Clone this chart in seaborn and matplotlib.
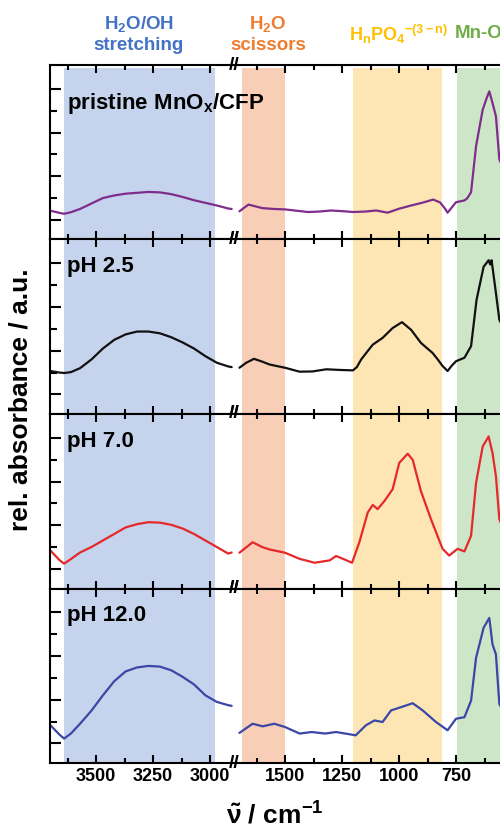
import numpy as np
import pandas as pd
import matplotlib
matplotlib.use("Agg")
import matplotlib.pyplot as plt
import seaborn as sns

sns.set_style("ticks")
plt.rcParams['font.family'] = ['Liberation Sans', 'DejaVu Sans']
plt.rcParams['font.weight'] = 'bold'
plt.rcParams['text.color'] = 'black'
plt.rcParams['axes.edgecolor'] = 'black'
plt.rcParams['xtick.color'] = 'black'
plt.rcParams['ytick.color'] = 'black'
plt.rcParams['mathtext.fontset'] = 'custom'
plt.rcParams['mathtext.rm'] = 'Liberation Sans:bold'
plt.rcParams['mathtext.it'] = 'Liberation Sans:italic:bold'
plt.rcParams['mathtext.bf'] = 'Liberation Sans:bold'
plt.rcParams['mathtext.default'] = 'rm'

# ---- data ----
samples = ["pristine MnO$_x$/CFP", "pH 2.5", "pH 7.0", "pH 12.0"]
colors = ["#7E2D8C", "#111111", "#E5292B", "#3A47A6"]

# high wavenumber part (left of the break)
wn_left = [3700, 3660, 3640, 3610, 3570, 3520, 3470, 3420, 3370, 3320, 3270,
           3220, 3170, 3120, 3070, 3020, 2970, 2920, 2905]
pristine_left = [0.42, 0.32, 0.28, 0.35, 0.5, 0.75, 1.0, 1.12, 1.2, 1.24, 1.28,
                 1.26, 1.18, 1.05, 0.9, 0.78, 0.66, 0.52, 0.5]
ph25_left = [1.07, 1.0, 0.98, 1.02, 1.2, 1.6, 2.1, 2.5, 2.75, 2.88, 2.88,
             2.8, 2.62, 2.38, 2.1, 1.75, 1.45, 1.28, 1.25]
ph70_left = [0.84, 0.4, 0.24, 0.45, 0.75, 1.0, 1.3, 1.6, 1.9, 2.05, 2.14,
             2.12, 2.02, 1.85, 1.6, 1.3, 1.0, 0.7, 0.75]
ph120_left = [0.83, 0.4, 0.22, 0.45, 0.9, 1.5, 2.2, 2.85, 3.3, 3.48, 3.55,
              3.52, 3.35, 3.05, 2.7, 2.2, 1.9, 1.75, 1.72]

# low wavenumber part (right of the break)
wn_pristine = [1700, 1680, 1660, 1630, 1600, 1550, 1500, 1450, 1400, 1350, 1300,
               1250, 1200, 1150, 1100, 1050, 1000, 950, 900, 850, 820, 800, 787,
               770, 750, 713, 700, 684, 662, 633, 615, 604, 590, 575, 560, 545]
pristine_right = [0.39, 0.55, 0.70, 0.62, 0.54, 0.5, 0.48, 0.42, 0.36, 0.38, 0.43,
                  0.4, 0.36, 0.38, 0.43, 0.33, 0.51, 0.65, 0.78, 0.93, 0.8, 0.54, 0.33,
                  0.55, 0.81, 0.89, 1.0, 1.27, 3.39, 5.05, 5.6, 5.89, 5.36, 4.75, 2.78, 2.4]

wn_ph25 = [1700, 1670, 1636, 1600, 1568, 1500, 1436, 1380, 1319, 1260, 1202, 1185,
           1166, 1140, 1115, 1072, 1028, 987, 947, 904, 853, 830, 809, 787, 770,
           750, 713, 684, 660, 629, 607, 600, 594, 575, 560, 545]
ph25_right = [1.22, 1.45, 1.63, 1.5, 1.37, 1.22, 1.04, 1.05, 1.15, 1.12, 1.1, 1.25,
              1.6, 1.95, 2.28, 2.59, 3.04, 3.31, 2.96, 2.36, 1.9, 1.6, 1.3, 1.07, 1.3,
              1.52, 1.68, 2.21, 4.33, 5.85, 6.15, 5.95, 6.15, 4.65, 3.42, 3.1]

wn_ph70 = [1700, 1642, 1600, 1568, 1500, 1436, 1370, 1304, 1276, 1239, 1206, 1174,
           1137, 1115, 1094, 1064, 1028, 999, 962, 940, 904, 860, 809, 780, 743,
           713, 684, 662, 633, 607, 590, 575, 560, 545]
ph70_right = [0.74, 1.22, 1.0, 0.89, 0.74, 0.46, 0.28, 0.39, 0.59, 0.43, 0.28, 1.22,
              2.59, 2.93, 2.74, 3.11, 3.65, 4.86, 5.28, 5.0, 3.57, 2.28, 0.92, 0.61, 0.92,
              0.8, 1.52, 3.95, 5.61, 6.07, 5.31, 4.25, 2.28, 1.9]

wn_ph120 = [1700, 1642, 1598, 1547, 1500, 1436, 1383, 1324, 1276, 1190, 1145, 1108,
            1072, 1035, 991, 940, 896, 838, 787, 750, 713, 684, 662, 629, 604, 590,
            575, 560, 545]
ph120_right = [0.48, 0.9, 0.78, 0.9, 0.75, 0.45, 0.52, 0.45, 0.52, 0.37, 0.83, 1.05,
               0.98, 1.51, 1.66, 1.84, 1.51, 0.98, 0.6, 1.13, 1.2, 1.96, 3.93, 5.3, 5.75,
               4.54, 4.08, 1.81, 1.5]

lefts = [pristine_left, ph25_left, ph70_left, ph120_left]
rights = [(wn_pristine, pristine_right), (wn_ph25, ph25_right),
          (wn_ph70, ph70_right), (wn_ph120, ph120_right)]

# shaded regions
bands = [(3640, 2980, "#C5D3EC"), (1690, 1500, "#F8CEB6"),
         (1200, 810, "#FEE6B4"), (745, 500, "#CDE6C8")]

# ---- broken x axis as a piecewise scale ----
LO, HI, SHIFT, GAP = 1720, 2900, 1171, 9


def fwd(x):
    x = np.asarray(x, dtype=float)
    return np.where(x >= HI, x - SHIFT,
                    np.where(x > LO, LO + (x - LO) * GAP / (HI - LO), x))


def inv(t):
    t = np.asarray(t, dtype=float)
    return np.where(t >= LO + GAP, t + SHIFT,
                    np.where(t > LO, LO + (t - LO) * (HI - LO) / GAP, t))


fig = plt.figure(figsize=(5, 8.3), dpi=100)
h = 174.5 / 830
top = 1 - 65 / 830
axes = []
for i in range(4):
    ax = fig.add_axes([50.4 / 500, top - (i + 1) * h, 453.5 / 500, h])
    axes.append(ax)

for i, ax in enumerate(axes):
    ax.set_xscale('function', functions=(fwd, inv))
    for a, b, c in bands:
        ax.axvspan(a, b, ymin=0, ymax=0.98 if i == 0 else 1, color=c, lw=0, zorder=0)
    sns.lineplot(x=wn_left, y=lefts[i], ax=ax, color=colors[i], lw=1.6)
    sns.lineplot(x=rights[i][0], y=rights[i][1], ax=ax, color=colors[i], lw=1.6)
    ax.set_xlim(3700, 540)
    ax.set_ylim(-0.9, 7.1)
    ax.set_xticks([3500, 3250, 3000, 1500, 1250, 1000, 750])
    ax.set_xticks([3625, 3375, 3125, 1625, 1375, 1125, 875, 625], minor=True)
    ax.set_yticks([0, 2, 4, 6])
    ax.set_yticks([1, 3, 5], minor=True)
    ax.tick_params(which='both', direction='in', top=True, bottom=True,
                   left=True, right=False, labelleft=False, width=1.5)
    ax.tick_params(which='major', length=6)
    ax.tick_params(which='minor', length=3.5)
    ax.tick_params(axis='y', which='major', length=8)
    ax.tick_params(axis='y', which='minor', length=5)
    if i < 3:
        ax.tick_params(labelbottom=False)
    else:
        ax.set_xticklabels(["3500", "3250", "3000", "1500", "1250", "1000", "750"],
                           fontsize=13, fontweight='bold')
    ax.set_xlabel("")
    ax.set_ylabel("")
    for s in ax.spines.values():
        s.set_linewidth(1.5)
    ax.spines['right'].set_visible(False)
    ylab = 0.78 if i == 0 else 0.845
    ax.text(0.037, ylab, samples[i], transform=ax.transAxes, fontsize=16,
            fontweight='bold', va='center', ha='left')
    for yy in (0, 1):
        ax.text(2300, yy, "//", transform=ax.get_xaxis_transform(), fontsize=14,
                fontweight='bold', ha='center', va='center', clip_on=False)

fig.text(0.042, 0.518, "rel. absorbance / a.u.", rotation=90, fontsize=19,
         fontweight='bold', ha='center', va='center')
fig.text(0.55, 1 - 815 / 830, r"$\tilde{\nu}$ / cm$^{-1}$", fontsize=19,
         fontweight='bold', ha='center', va='center')

fig.text(139 / 500, 1 - 34 / 830, "H$_2$O/OH\nstretching", color="#4472C4",
         fontsize=13.5, fontweight='bold', ha='center', va='center')
fig.text(268 / 500, 1 - 34 / 830, "H$_2$O\nscissors", color="#ED7D31",
         fontsize=13.5, fontweight='bold', ha='center', va='center')
fig.text(398 / 500, 1 - 34 / 830, "H$_n$PO$_4$$^{-(3-n)}$", color="#FFC000",
         fontsize=13, fontweight='bold', ha='center', va='center')
fig.text(455 / 500, 1 - 34 / 830, "Mn-O", color="#70AD47",
         fontsize=13.5, fontweight='bold', ha='left', va='center')

fig.savefig("out.png", dpi=100)
